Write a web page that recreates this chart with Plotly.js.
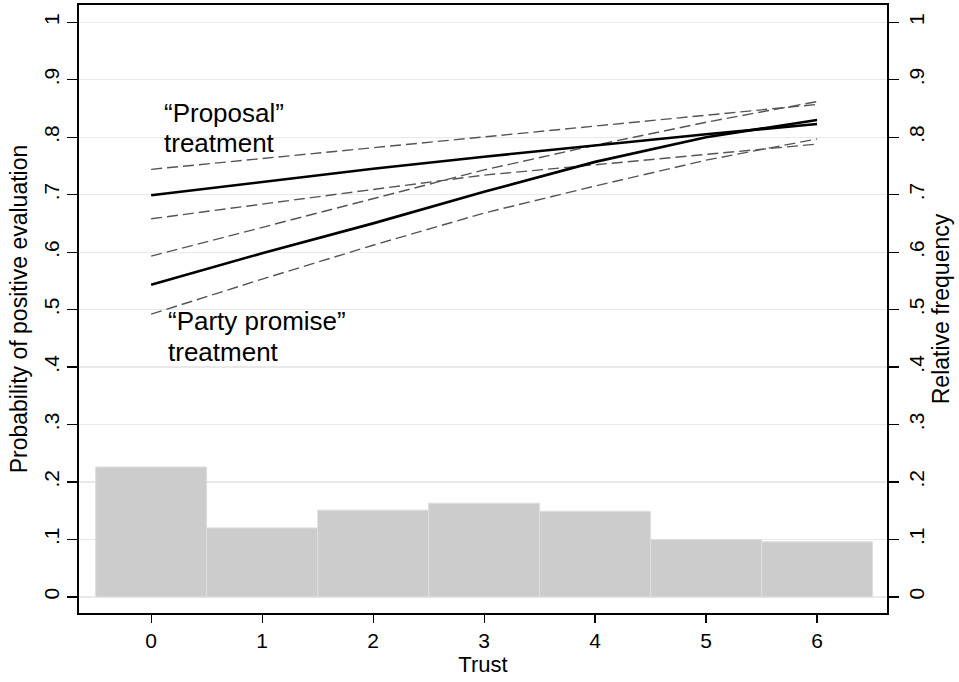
<!DOCTYPE html>
<html>
<head>
<meta charset="utf-8">
<script src="https://cdn.plot.ly/plotly-3.0.1.min.js"></script>
<style>html,body{margin:0;padding:0;background:#fff;}#chart{width:959px;height:682px;}</style>
</head>
<body>
<div id="chart"></div>
<script>
// Trust scale values
const trust = [0, 1, 2, 3, 4, 5, 6];
// Relative frequency of each trust level (histogram)
const relFreq = [0.226, 0.120, 0.151, 0.163, 0.149, 0.100, 0.096];
// "Proposal" treatment: predicted probability and 95% CI
const proposalFit = [0.699, 0.722, 0.745, 0.766, 0.786, 0.805, 0.823];
const proposalUpper = [0.744, 0.763, 0.782, 0.801, 0.820, 0.839, 0.857];
const proposalLower = [0.658, 0.684, 0.709, 0.734, 0.752, 0.770, 0.788];
// "Party promise" treatment: predicted probability and 95% CI
const partyFit = [0.543, 0.598, 0.650, 0.705, 0.757, 0.800, 0.830];
const partyUpper = [0.593, 0.643, 0.693, 0.743, 0.786, 0.826, 0.862];
const partyLower = [0.492, 0.553, 0.612, 0.668, 0.715, 0.760, 0.797];
// Axis ticks
const yTickVals = [0, 0.1, 0.2, 0.3, 0.4, 0.5, 0.6, 0.7, 0.8, 0.9, 1];
const yTickText = ['0', '.1', '.2', '.3', '.4', '.5', '.6', '.7', '.8', '.9', '1'];

const FONT = 'Liberation Sans, Arial, Helvetica, sans-serif';
const dashStyle = {color: '#555555', width: 1.4, dash: '11px,5px'};
const solidStyle = {color: '#000000', width: 2.6};

const traces = [
  {type: 'bar', x: trust, y: relFreq, width: 1, yaxis: 'y2',
   marker: {color: '#cccccc', line: {color: '#dedede', width: 1}}, hoverinfo: 'skip'},
  {type: 'scatter', mode: 'lines', x: trust, y: proposalUpper, line: dashStyle},
  {type: 'scatter', mode: 'lines', x: trust, y: proposalLower, line: dashStyle},
  {type: 'scatter', mode: 'lines', x: trust, y: partyUpper, line: dashStyle},
  {type: 'scatter', mode: 'lines', x: trust, y: partyLower, line: dashStyle},
  {type: 'scatter', mode: 'lines', x: trust, y: proposalFit, line: solidStyle},
  {type: 'scatter', mode: 'lines', x: trust, y: partyFit, line: solidStyle}
];

const yCommon = {
  range: [-0.028, 1.03], tickvals: yTickVals, ticktext: yTickText, tickangle: -90,
  ticks: 'outside', ticklen: 10, tickwidth: 1.2, tickcolor: '#000',
  tickfont: {family: FONT, size: 21, color: '#000'},
  showline: true, linecolor: '#000', linewidth: 1.6, zeroline: false,
  fixedrange: true
};

const ann = (x, y, text) => ({xref: 'x', yref: 'y', x: x, y: y, text: text,
  xanchor: 'left', yanchor: 'middle', showarrow: false,
  font: {family: FONT, size: 26, color: '#000'}});

const layout = {
  width: 959, height: 682, autosize: false,
  margin: {l: 79, r: 72, t: 5, b: 69, pad: 0},
  paper_bgcolor: '#fff', plot_bgcolor: '#fff',
  showlegend: false,
  bargap: 0,
  xaxis: {
    range: [-0.65, 6.63], tickvals: trust, ticks: 'outside', ticklen: 8, tickwidth: 1.2,
    tickcolor: '#000', tickfont: {family: FONT, size: 21, color: '#000'},
    showline: true, linecolor: '#000', linewidth: 1.6, mirror: true,
    showgrid: false, zeroline: false,
    title: {text: 'Trust', font: {family: FONT, size: 22, color: '#000'}, standoff: 4}
  },
  yaxis: Object.assign({}, yCommon, {
    showgrid: true, gridcolor: '#e9e9e9', gridwidth: 1.2, mirror: false,
    title: {text: 'Probability of positive evaluation', font: {family: FONT, size: 23, color: '#000'}, standoff: 6}
  }),
  yaxis2: Object.assign({}, yCommon, {
    overlaying: 'y', side: 'right', showgrid: false,
    title: {text: 'Relative frequency', font: {family: FONT, size: 23, color: '#000'}, standoff: 6}
  }),
  annotations: [
    ann(0.10, 0.842, '“Proposal”'),
    ann(0.10, 0.790, 'treatment'),
    ann(0.13, 0.480, '“Party promise”'),
    ann(0.13, 0.427, 'treatment')
  ]
};

Plotly.newPlot('chart', traces, layout, {staticPlot: true, displayModeBar: false});
</script>
</body>
</html>
